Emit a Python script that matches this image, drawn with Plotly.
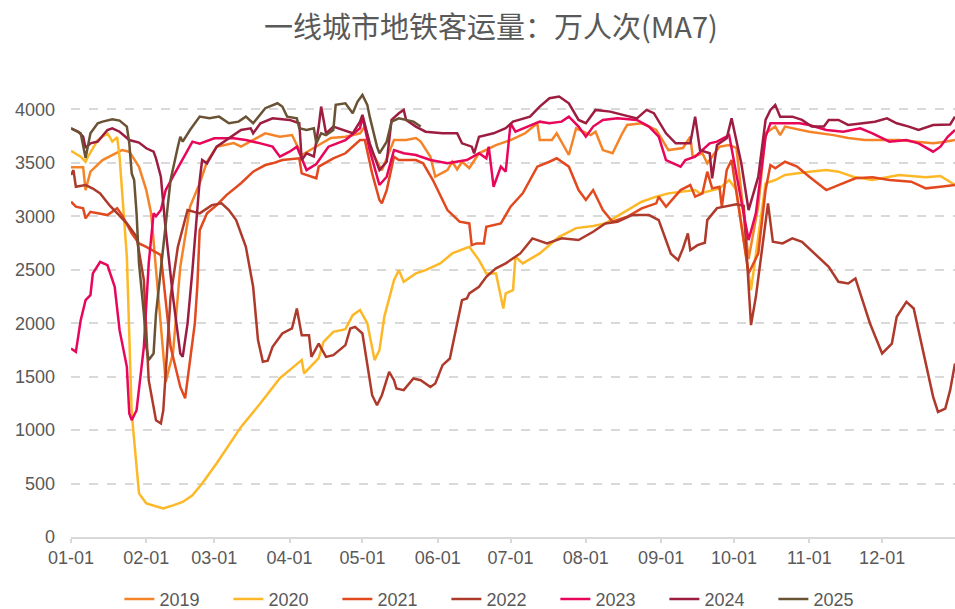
import pandas as pd
import plotly.graph_objects as go

title_text = "一线城市地铁客运量：万人次(MA7)"
years = ["2019", "2020", "2021", "2022", "2023", "2024", "2025"]
colors = ["#F58428", "#FDB827", "#E2491E", "#AE3A2B", "#E8065A", "#9D1D40", "#6A5335"]
y_ticks = [0, 500, 1000, 1500, 2000, 2500, 3000, 3500, 4000]

# day-of-year offsets (0 = 01-01) and values (万人次)
days_2019 = [0,5,6,8,13,17,21,24,28,31,33,39,42,45,49,53,56,60,67,70,75,80,86,91,95,101,107,113,119,121,124,128,133,138,142,144,148,150,155,157,159,161,164,168,175,181,187,192,193,198,200,205,208,214,216,219,223,227,229,235,241,246,252,255,256,260,262,267,271,274,279,283,286,290,292,294,304,314,320,327,341,348,355,360,364]
vals_2019 = [3460,3460,3245,3418,3527,3573,3620,3605,3464,3245,3030,1451,1720,2528,3090,3310,3511,3652,3685,3652,3714,3777,3745,3761,3574,3652,3733,3745,3777,3840,3600,3430,3714,3714,3733,3700,3558,3371,3433,3511,3440,3511,3452,3590,3667,3714,3777,3871,3714,3714,3777,3574,3824,3760,3792,3620,3590,3777,3855,3871,3808,3620,3639,3745,3558,3590,3496,3652,3667,3640,2600,3100,3777,3840,3760,3840,3792,3760,3733,3714,3714,3699,3685,3699,3714]

days_2020 = [0,4,6,7,11,15,16,17,19,20,21,23,25,28,31,38,42,46,50,54,60,67,70,78,86,91,95,96,102,104,108,113,116,119,122,125,127,129,133,135,137,142,146,152,157,164,168,171,175,178,179,182,183,186,193,201,208,215,220,235,241,246,257,259,267,271,274,280,286,290,294,304,311,316,322,330,341,352,358,364]
vals_2020 = [3614,3558,3511,3558,3714,3777,3740,3699,3740,3558,3245,2620,1158,408,315,268,296,328,390,500,690,936,1030,1251,1486,1580,1655,1530,1673,1826,1920,1945,2076,2123,2000,1655,1749,2060,2403,2497,2388,2466,2497,2560,2653,2715,2591,2466,2466,2138,2280,2310,2622,2560,2653,2809,2890,2909,2934,3137,3184,3215,3246,3215,3262,3340,3246,2310,3309,3340,3387,3418,3433,3418,3371,3340,3387,3365,3377,3293]

days_2021 = [0,2,5,6,8,11,15,19,21,25,28,31,37,41,45,47,49,51,52,53,56,60,64,70,75,80,83,87,94,95,101,102,108,113,119,121,124,127,128,130,133,135,142,145,149,155,160,164,165,167,170,171,177,181,186,192,197,200,205,209,212,215,219,223,229,235,241,242,245,251,255,257,260,262,264,267,268,270,272,279,283,286,288,290,294,299,304,311,316,323,330,337,346,352,358,364]
vals_2021 = [3137,3090,3075,2981,3043,3028,3012,3075,3012,2840,2747,2715,2638,1779,1404,1298,1625,2000,2340,2871,3028,3105,3199,3310,3418,3480,3496,3527,3543,3402,3356,3465,3543,3590,3714,3714,3402,3153,3123,3246,3558,3527,3527,3496,3340,3059,2950,2934,2731,2747,2747,2903,2934,3090,3215,3465,3511,3543,3465,3246,3153,3246,3059,2950,2996,3075,3122,3184,3090,3246,3293,3184,3215,3418,3262,3277,3090,3433,3527,2466,2653,3246,3480,3450,3511,3465,3371,3246,3293,3356,3365,3340,3324,3262,3277,3293]

days_2022 = [0,1,2,6,9,12,16,19,23,27,30,32,35,37,38,41,44,48,53,58,62,65,68,72,75,77,79,81,83,87,91,93,95,98,99,102,105,108,113,115,117,120,124,126,128,131,133,134,137,141,144,148,150,153,156,159,161,163,164,168,171,175,179,185,190,196,202,209,215,220,225,231,238,242,244,247,250,252,254,255,258,261,262,266,274,277,280,282,287,289,293,297,301,307,312,316,320,323,329,334,338,340,344,347,351,355,357,360,362,364]
vals_2022 = [3387,3433,3277,3293,3260,3215,3100,3028,2934,2809,2403,1467,1093,1062,1186,2247,2715,3059,3028,3105,3122,3059,2965,2715,2341,1842,1640,1650,1779,1904,1951,2138,1888,1888,1685,1810,1685,1701,1795,1951,1966,1904,1327,1233,1327,1545,1467,1389,1374,1483,1467,1404,1436,1608,1670,1998,2216,2232,2279,2341,2434,2513,2560,2653,2794,2747,2794,2778,2856,2934,2950,3012,3012,2965,2840,2650,2590,2700,2841,2684,2731,2753,2965,3077,3114,3100,1982,2247,3122,2762,2747,2794,2762,2638,2528,2388,2372,2419,1998,1717,1810,2060,2200,2138,1717,1311,1170,1202,1374,1624]

days_2023 = [0,2,4,6,8,9,12,15,18,20,23,24,25,27,30,32,34,35,37,39,42,48,50,53,59,67,72,78,83,86,90,93,95,97,101,106,113,119,120,123,127,130,133,137,142,148,155,163,168,171,172,174,177,179,181,183,188,193,197,202,205,209,212,215,219,225,233,238,242,245,251,253,257,263,266,271,279,282,286,288,292,300,304,311,318,325,330,337,344,349,355,358,361,364]
vals_2023 = [1764,1732,2029,2216,2263,2466,2575,2544,2341,1935,1592,1155,1093,1186,1779,2560,3028,3000,3059,3246,3371,3620,3699,3680,3730,3730,3714,3683,3652,3558,3605,3652,3543,3433,3490,3652,3714,3824,3933,3620,3293,3371,3620,3590,3574,3527,3496,3527,3590,3543,3652,3277,3465,3418,3871,3792,3840,3886,3871,3886,3933,3840,3745,3840,3902,3917,3902,3840,3745,3527,3465,3527,3558,3683,3699,3760,2778,3028,3745,3871,3871,3871,3855,3808,3792,3824,3777,3699,3714,3683,3605,3652,3745,3808]

days_2024 = [0,3,5,6,8,11,15,17,20,24,28,31,34,35,37,39,42,45,46,48,50,53,54,56,60,65,70,74,75,78,83,90,94,95,97,100,102,103,105,108,112,116,119,120,123,127,130,132,135,137,138,142,146,153,159,161,165,166,168,174,179,182,189,193,197,201,205,209,212,216,222,227,233,237,240,245,249,255,257,259,263,264,266,270,272,276,279,283,286,288,290,292,297,301,305,310,312,316,320,326,331,336,340,345,349,355,360,362,364]
vals_2024 = [3824,3792,3745,3640,3683,3700,3808,3824,3792,3714,3690,3637,3605,3543,3371,2871,2247,1717,1685,1998,2497,3340,3527,3496,3652,3730,3808,3824,3777,3871,3917,3902,3871,3527,3590,3560,3840,4027,3777,3840,3808,3777,3886,3949,3683,3433,3511,3902,3965,3996,3902,3840,3792,3777,3777,3683,3652,3590,3745,3777,3824,3886,3933,4027,4105,4121,4058,3902,3871,3996,3980,3949,3917,3996,3965,3777,3683,3683,3933,3620,3590,3356,3667,3730,3917,3496,3059,3371,3902,3996,4043,3933,3933,3902,3840,3840,3902,3902,3855,3871,3886,3917,3871,3840,3808,3855,3855,3860,3933]

days_2025 = [0,4,6,8,11,13,17,20,23,24,25,26,27,28,30,31,32,34,35,38,41,44,45,46,49,53,57,61,65,69,72,75,80,85,87,89,93,94,97,100,101,103,105,108,109,113,116,118,120,122,123,126,127,130,132,135,138,141,144]
vals_2025 = [3824,3777,3545,3777,3871,3886,3908,3896,3840,3683,3402,3340,3028,2560,2091,1779,1655,1717,2091,2715,3340,3652,3745,3699,3808,3933,3917,3933,3871,3886,3933,3871,4012,4058,4027,3933,3917,3824,3808,3824,3683,3777,3760,3808,4043,4058,3965,4074,4136,4043,3933,3652,3590,3699,3886,3917,3902,3886,3840]

series_days = [days_2019, days_2020, days_2021, days_2022, days_2023, days_2024, days_2025]
series_vals = [vals_2019, vals_2020, vals_2021, vals_2022, vals_2023, vals_2024, vals_2025]

base = pd.Timestamp("2019-01-01")
fig = go.Figure()
for name, col, d, v in zip(years, colors, series_days, series_vals):
    x = base + pd.to_timedelta(d, unit="D")
    fig.add_trace(go.Scatter(x=x, y=v, mode="lines", name=name,
                             line=dict(color=col, width=2.5)))

font_fam = "Liberation Sans, Arial, sans-serif"
fig.update_layout(
    width=955, height=609,
    margin=dict(l=71, r=0, t=82, b=72),
    plot_bgcolor="white", paper_bgcolor="white",
    font=dict(family=font_fam, size=18, color="#595959"),
    title=dict(text=title_text, xref="container", x=0.514, xanchor="center",
               yref="container", y=0.955, yanchor="middle",
               font=dict(family="Noto Sans CJK SC, " + font_fam, size=29, color="#595959")),
    legend=dict(orientation="h", xref="container", yref="container",
                x=0.125, xanchor="left", y=0.016, yanchor="middle",
                entrywidth=64, entrywidthmode="pixels",
                font=dict(size=18, color="#595959"), bgcolor="rgba(0,0,0,0)"),
    showlegend=True,
)
fig.update_xaxes(type="date", range=["2019-01-01", "2019-12-31"],
                 tick0="2019-01-01", dtick="M1", tickformat="%m-%d",
                 ticks="outside", ticklen=4, tickcolor="#D9D9D9", tickwidth=1.5,
                 showline=True, linecolor="#D9D9D9", linewidth=1.5,
                 showgrid=False, zeroline=False)
fig.update_yaxes(range=[0, 4257], tickmode="array", tickvals=y_ticks,
                 showgrid=True, gridcolor="#D9D9D9", gridwidth=1.5, griddash="dash",
                 zeroline=False, showline=False, ticks="", ticklabelstandoff=15)
fig.write_html("out.html", config={"displayModeBar": False},
               post_script="document.body.style.margin='0';document.body.style.overflow='hidden';")
